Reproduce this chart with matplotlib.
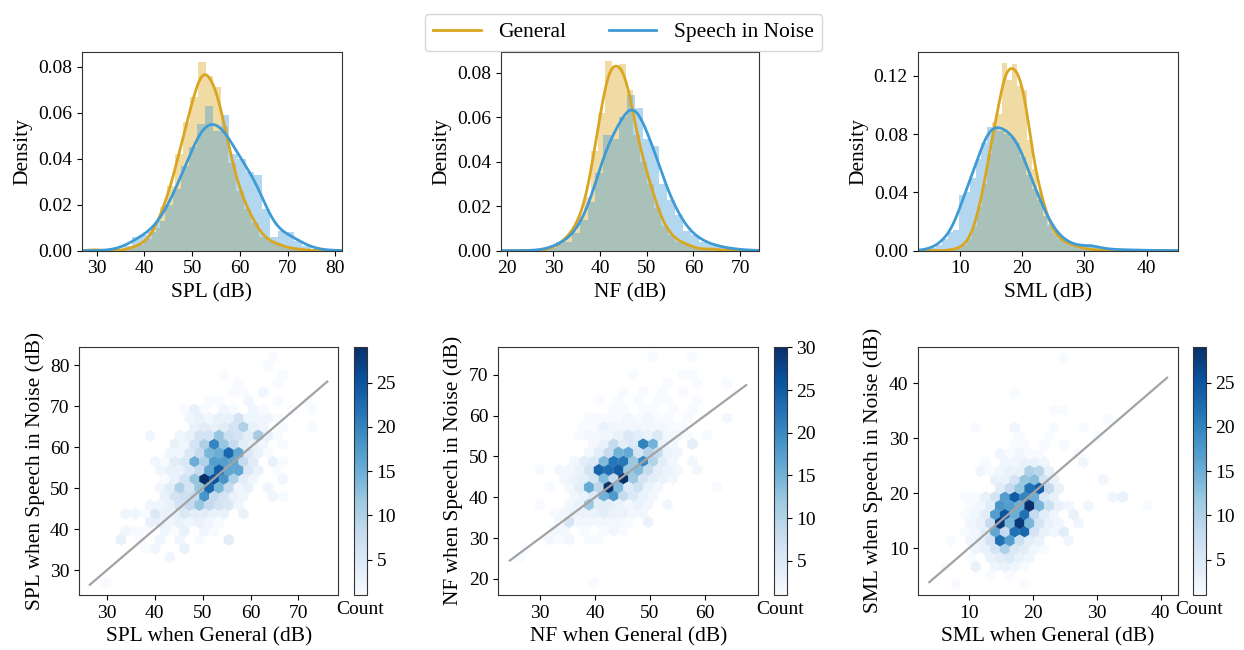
import matplotlib
matplotlib.use("Agg")
import matplotlib.pyplot as plt
from matplotlib.lines import Line2D
import numpy as np
import seaborn as sns

plt.rcParams['font.family'] = ['Liberation Serif', 'DejaVu Serif']
plt.rcParams['xtick.labelsize'] = 14
plt.rcParams['ytick.labelsize'] = 14
plt.rcParams['axes.labelsize'] = 15.5
plt.rcParams['axes.edgecolor'] = '#333333'

GOLD = '#daa520'
BLUE = '#3f9bd5'

# ---------------- histogram data: (first bin edge, bin width) + density per bin
spl_gen_bins = (28.8, 1.6)
spl_gen_density = [0.0008, 0, 0, 0, 0.0004, 0.0016, 0.0025, 0.005, 0.010, 0.019,
                   0.028, 0.042, 0.056, 0.067, 0.082, 0.076, 0.071, 0.054, 0.038,
                   0.026, 0.018, 0.012, 0.006, 0.004, 0.003, 0.0015, 0.0008, 0.0008]
spl_sin_bins = (27.2, 1.7)
spl_sin_density = [0, 0, 0, 0.0003, 0.0008, 0.002, 0.006, 0.007, 0.008, 0.013,
                   0.020, 0.027, 0.037, 0.045, 0.055, 0.063, 0.052, 0.059, 0.042,
                   0.040, 0.034, 0.033, 0.018, 0.006, 0.0085, 0.008, 0.004, 0.002,
                   0.0008, 0.0003, 0, 0.0002]

nf_gen_bins = (24.5, 1.5)
nf_gen_density = [0, 0, 0.0005, 0.001, 0.003, 0.0055, 0.009, 0.015, 0.024, 0.045,
                  0.062, 0.085, 0.082, 0.084, 0.072, 0.052, 0.040, 0.030, 0.019,
                  0.011, 0.007, 0.004, 0.0035, 0.0015, 0.0008, 0.0006, 0.001, 0.0003]
nf_sin_bins = (22.0, 1.7)
nf_sin_density = [0, 0, 0.0002, 0.0005, 0.001, 0.004, 0.004, 0.008, 0.014, 0.022,
                  0.035, 0.052, 0.050, 0.060, 0.070, 0.064, 0.050, 0.047, 0.030,
                  0.023, 0.016, 0.009, 0.007, 0.004, 0.003, 0.002, 0.0012, 0.0008,
                  0.0004, 0.0002, 0.0001]

sml_gen_bins = (8.0, 0.8)
sml_gen_density = [0.0005, 0.001, 0.002, 0.004, 0.008, 0.017, 0.030, 0.046, 0.066,
                   0.088, 0.094, 0.129, 0.117, 0.128, 0.113, 0.110, 0.076, 0.056,
                   0.040, 0.030, 0.017, 0.012, 0.008, 0.006, 0.004, 0.004, 0.002,
                   0.0015, 0.001, 0.0005, 0.0005]
sml_sin_bins = (3.5, 0.9)
sml_sin_density = [0.0005, 0.001, 0.002, 0.004, 0.008, 0.013, 0.014, 0.038, 0.040,
                   0.050, 0.063, 0.074, 0.085, 0.084, 0.082, 0.080, 0.078, 0.074,
                   0.064, 0.052, 0.042, 0.035, 0.024, 0.018, 0.011, 0.008, 0.006,
                   0.004, 0.003, 0.003, 0.0045, 0.003, 0.0015, 0.001, 0.001, 0.0008,
                   0.0005, 0.0005, 0.0005, 0.0003, 0.0003, 0.0002, 0.0001, 0.0001,
                   0.0001, 0.0001]

# ---------------- hexbin cells: (speech-in-noise dB, [(general dB, count), ...])
spl_cells = [
    (81.88, [(64.67, 1)]),
    (79.76, [(63.65, 1)]),
    (77.64, [(54.44, 1), (66.72, 1)]),
    (75.53, [(57.51, 1), (65.70, 1)]),
    (73.41, [(56.49, 1), (58.54, 1), (62.63, 2)]),
    (71.30, [(51.38, 1), (53.42, 1), (59.56, 2), (65.70, 1), (71.84, 1)]),
    (69.18, [(46.26, 1), (48.31, 3), (50.35, 1), (54.44, 2), (56.49, 1), (60.58, 2),
             (62.63, 1), (68.77, 1), (72.86, 1)]),
    (67.07, [(47.28, 2), (49.33, 3), (51.38, 2), (53.42, 3), (55.47, 3), (57.51, 6),
             (59.56, 2), (61.61, 2), (63.65, 2), (65.70, 1)]),
    (64.95, [(48.31, 3), (50.35, 4), (52.40, 3), (54.44, 4), (56.49, 6), (58.54, 10),
             (60.58, 3), (62.63, 2), (66.72, 1), (72.86, 1)]),
    (62.84, [(39.10, 2), (45.24, 2), (47.28, 3), (49.33, 6), (51.38, 6), (53.42, 12),
             (55.47, 7), (57.51, 6), (59.56, 4), (61.61, 11), (63.65, 3), (65.70, 1)]),
    (60.72, [(44.21, 3), (46.26, 2), (48.31, 6), (50.35, 10), (52.40, 20), (54.44, 12),
             (56.49, 8), (58.54, 4), (60.58, 3), (62.63, 2), (66.72, 1)]),
    (58.61, [(43.19, 2), (45.24, 2), (47.28, 5), (49.33, 8), (51.38, 14), (53.42, 15),
             (55.47, 23), (57.51, 16), (59.56, 5), (61.61, 3), (63.65, 1)]),
    (56.49, [(40.12, 2), (42.17, 1), (44.21, 4), (46.26, 5), (48.31, 15), (50.35, 10),
             (52.40, 17), (54.44, 17), (56.49, 16), (58.54, 8), (60.58, 4), (64.67, 3),
             (66.72, 1)]),
    (54.38, [(41.15, 2), (43.19, 3), (45.24, 3), (47.28, 5), (49.33, 8), (51.38, 16),
             (53.42, 24), (55.47, 16), (57.51, 16), (59.56, 5), (61.61, 3), (65.70, 1)]),
    (52.26, [(42.17, 1), (44.21, 3), (46.26, 6), (48.31, 12), (50.35, 29), (52.40, 25),
             (54.44, 18), (56.49, 10), (58.54, 4), (60.58, 2), (66.72, 2)]),
    (50.15, [(41.15, 2), (43.19, 4), (45.24, 10), (47.28, 6), (49.33, 12), (51.38, 23),
             (53.42, 14), (55.47, 8), (57.51, 2), (59.56, 3), (63.65, 2)]),
    (48.03, [(42.17, 3), (44.21, 6), (46.26, 7), (48.31, 8), (50.35, 18), (52.40, 8),
             (54.44, 6), (56.49, 3), (58.54, 2), (64.67, 2), (66.72, 1)]),
    (45.92, [(39.10, 2), (41.15, 2), (43.19, 3), (45.24, 6), (47.28, 8), (49.33, 12),
             (51.38, 8), (53.42, 6), (55.47, 5), (57.51, 2)]),
    (43.80, [(33.98, 2), (36.03, 2), (38.08, 1), (40.12, 5), (42.17, 3), (44.21, 3),
             (46.26, 5), (48.31, 4), (50.35, 4), (52.40, 3), (54.44, 3), (58.54, 3)]),
    (41.69, [(39.10, 3), (41.15, 3), (43.19, 2), (45.24, 3), (47.28, 2), (49.33, 3),
             (51.38, 2), (53.42, 1)]),
    (39.57, [(33.98, 2), (36.03, 1), (38.08, 1), (42.17, 2), (44.21, 1), (46.26, 3),
             (50.35, 2), (52.40, 1)]),
    (37.46, [(32.96, 3), (37.05, 1), (41.15, 2), (45.24, 2), (49.33, 1), (55.47, 4)]),
    (35.34, [(38.08, 1), (40.12, 2), (46.26, 3)]),
    (33.23, [(43.19, 2)]),
    (26.88, [(29.89, 1)]),
]

nf_cells = [
    (74.35, [(50.55, 1), (57.72, 1)]),
    (70.10, [(46.97, 1), (55.93, 1), (57.72, 1)]),
    (67.97, [(53.24, 1), (58.61, 1), (63.99, 1)]),
    (65.84, [(45.17, 1), (48.76, 1), (52.34, 1), (55.93, 1)]),
    (63.72, [(40.69, 1), (44.28, 1), (47.86, 1), (51.45, 1), (53.24, 1), (58.61, 1)]),
    (61.59, [(43.38, 1), (45.17, 1), (48.76, 1), (50.55, 1), (54.13, 1), (57.72, 1)]),
    (59.46, [(38.90, 1), (40.69, 1), (42.49, 1), (44.28, 1), (46.07, 2), (47.86, 1),
             (49.65, 2), (51.45, 1), (53.24, 1), (56.82, 1), (63.99, 2)]),
    (57.34, [(38.01, 1), (39.80, 1), (41.59, 3), (43.38, 2), (45.17, 2), (46.97, 2),
             (48.76, 2), (50.55, 2), (52.34, 2), (54.13, 1), (55.93, 1)]),
    (55.21, [(37.11, 1), (38.90, 2), (40.69, 2), (42.49, 2), (44.28, 3), (46.07, 5),
             (47.86, 4), (49.65, 3), (51.45, 5), (53.24, 2), (55.03, 2), (56.82, 1),
             (60.41, 1)]),
    (53.08, [(39.80, 2), (41.59, 3), (43.38, 8), (45.17, 4), (46.97, 5), (48.76, 21),
             (50.55, 15), (52.34, 3), (54.13, 2), (57.72, 4)]),
    (50.96, [(38.90, 2), (40.69, 4), (42.49, 8), (44.28, 15), (46.07, 16), (47.86, 6),
             (49.65, 10), (51.45, 8), (53.24, 3), (55.03, 2)]),
    (48.83, [(36.21, 2), (38.01, 4), (39.80, 5), (41.59, 14), (43.38, 22), (45.17, 22),
             (46.97, 12), (48.76, 20), (50.55, 10), (52.34, 4), (54.13, 2), (57.72, 2)]),
    (46.70, [(29.94, 1), (33.53, 2), (35.32, 2), (37.11, 3), (38.90, 6), (40.69, 24),
             (42.49, 23), (44.28, 25), (46.07, 12), (47.86, 14), (49.65, 8), (51.45, 4),
             (53.24, 3), (55.03, 2), (58.61, 2)]),
    (44.57, [(34.42, 2), (36.21, 3), (38.01, 4), (39.80, 6), (41.59, 14), (43.38, 8),
             (45.17, 30), (46.97, 12), (48.76, 6), (50.55, 4), (52.34, 3), (54.13, 2)]),
    (42.45, [(31.73, 1), (35.32, 2), (37.11, 4), (38.90, 16), (40.69, 9), (42.49, 30),
             (44.28, 14), (46.07, 5), (47.86, 7), (49.65, 3), (51.45, 2), (62.20, 1)]),
    (40.32, [(36.21, 2), (38.01, 3), (39.80, 5), (41.59, 15), (43.38, 18), (45.17, 8),
             (46.97, 5), (48.76, 3), (50.55, 2)]),
    (38.19, [(29.94, 1), (35.32, 2), (37.11, 3), (38.90, 12), (40.69, 4), (42.49, 4),
             (44.28, 3), (46.07, 2), (47.86, 3), (49.65, 2), (53.24, 2)]),
    (36.07, [(32.63, 1), (34.42, 2), (36.21, 3), (38.01, 3), (39.80, 3), (41.59, 4),
             (43.38, 3), (45.17, 3), (46.97, 2), (48.76, 2)]),
    (33.94, [(33.53, 2), (35.32, 6), (37.11, 2), (38.90, 2), (40.69, 2), (42.49, 2),
             (44.28, 2), (46.07, 1), (49.65, 3)]),
    (31.81, [(32.63, 2), (34.42, 2), (38.01, 1), (41.59, 1), (43.38, 2), (45.17, 1)]),
    (29.69, [(31.73, 2), (33.53, 1), (35.32, 2), (38.90, 1), (40.69, 1)]),
    (27.56, [(27.25, 1)]),
    (25.43, [(26.36, 1)]),
    (19.05, [(39.80, 1)]),
]

sml_cells = [
    (44.57, [(24.85, 1)]),
    (38.25, [(17.16, 1)]),
    (35.09, [(23.31, 1), (24.85, 1)]),
    (33.51, [(31.77, 1)]),
    (31.93, [(11.01, 1), (17.16, 2), (23.31, 1), (27.92, 1)]),
    (30.35, [(17.93, 1), (22.54, 1), (30.23, 1)]),
    (28.77, [(17.16, 1), (18.70, 1), (21.77, 1), (24.85, 1)]),
    (27.19, [(14.85, 2), (16.39, 1), (17.93, 2), (19.47, 1), (21.00, 1), (27.15, 1)]),
    (25.60, [(12.55, 1), (15.62, 2), (17.16, 2), (18.70, 3), (20.23, 3), (21.77, 2),
             (27.92, 2)]),
    (24.02, [(11.78, 2), (13.32, 1), (14.85, 2), (16.39, 3), (17.93, 3), (19.47, 10),
             (21.00, 9), (22.54, 3)]),
    (22.44, [(14.08, 3), (15.62, 3), (17.16, 6), (18.70, 12), (20.23, 13), (21.77, 6),
             (23.31, 3), (31.00, 2)]),
    (20.86, [(14.85, 4), (16.39, 8), (17.93, 12), (19.47, 22), (21.00, 24), (22.54, 8),
             (24.08, 3)]),
    (19.28, [(9.47, 1), (11.01, 1), (12.55, 3), (14.08, 6), (15.62, 17), (17.16, 24),
             (18.70, 20), (20.23, 15), (21.77, 5), (23.31, 3), (32.53, 2), (34.07, 3)]),
    (17.70, [(10.24, 1), (11.78, 2), (13.32, 4), (14.85, 18), (16.39, 17), (17.93, 15),
             (19.47, 29), (21.00, 14), (22.54, 7), (24.08, 3), (25.62, 2), (28.69, 2),
             (37.92, 1)]),
    (16.12, [(9.47, 1), (11.01, 2), (12.55, 4), (14.08, 17), (15.62, 25), (17.16, 15),
             (18.70, 22), (20.23, 8), (21.77, 4), (23.31, 2), (26.38, 3)]),
    (14.54, [(10.24, 2), (11.78, 3), (13.32, 8), (14.85, 28), (16.39, 14), (17.93, 28),
             (19.47, 14), (21.00, 6), (22.54, 3), (24.08, 2), (27.15, 2)]),
    (12.96, [(9.47, 1), (11.01, 2), (12.55, 4), (14.08, 16), (15.62, 8), (17.16, 22),
             (18.70, 23), (20.23, 6), (21.77, 3), (23.31, 2), (24.85, 4)]),
    (11.38, [(7.17, 1), (10.24, 2), (11.78, 3), (13.32, 6), (14.85, 22), (16.39, 17),
             (17.93, 7), (19.47, 4), (21.00, 3), (25.62, 2)]),
    (9.79, [(11.01, 2), (12.55, 3), (14.08, 6), (15.62, 10), (17.16, 5), (18.70, 4),
            (20.23, 2), (21.77, 1)]),
    (8.21, [(10.24, 1), (13.32, 3), (14.85, 4), (16.39, 5), (17.93, 3), (19.47, 2)]),
    (6.63, [(6.40, 1), (11.01, 3), (14.08, 2), (15.62, 3), (17.16, 2), (18.70, 1)]),
    (5.05, [(13.32, 1), (16.39, 1)]),
    (3.47, [(7.93, 1), (18.70, 1)]),
]

# identity line ranges
spl_line = [26.5, 76.0]
nf_line = [24.5, 67.5]
sml_line = [3.8, 41.0]

W, H = 1244, 650
fig = plt.figure(figsize=(W / 100, H / 100), dpi=100)


def box(l, t, r, b):
    return [l / W, 1 - b / H, (r - l) / W, (b - t) / H]


def draw_hist(ax, bins, dens, color, bw):
    start, width = bins
    centers = start + width * (np.arange(len(dens)) + 0.5)
    ax.bar(centers, dens, width=width, color=color, alpha=0.4, linewidth=0)
    sns.kdeplot(x=centers, weights=dens, bw_adjust=bw, cut=10, gridsize=600,
                color=color, lw=2, ax=ax)


def draw_hex(ax, cax, cells, extent, line):
    xs, ys, ns = [], [], []
    for y, row in cells:
        for x, n in row:
            xs.append(x)
            ys.append(y)
            ns.append(n)
    hb = ax.hexbin(xs, ys, C=ns, reduce_C_function=np.max, gridsize=24,
                   extent=extent, cmap='Blues', linewidths=0.2)
    ax.plot(line, line, color='#a3a3a3', lw=1.6)
    cb = fig.colorbar(hb, cax=cax)
    cb.ax.set_xlabel('Count', fontsize=14)
    cb.ax.tick_params(labelsize=14)
    cb.outline.set_edgecolor('#333333')
    return hb


# top row: label, general, speech-in-noise, x range/ticks, y range/ticks, kde bw
top = [
    ('SPL (dB)', spl_gen_bins, spl_gen_density, spl_sin_bins, spl_sin_density,
     (26.9, 81.4), range(30, 81, 10), (0, 0.0865), [0, 0.02, 0.04, 0.06, 0.08],
     (0.40, 0.55), (82, 342)),
    ('NF (dB)', nf_gen_bins, nf_gen_density, nf_sin_bins, nf_sin_density,
     (18.7, 74.1), range(20, 71, 10), (0, 0.0894), [0, 0.02, 0.04, 0.06, 0.08],
     (0.42, 0.52), (500.7, 759.3)),
    ('SML (dB)', sml_gen_bins, sml_gen_density, sml_sin_bins, sml_sin_density,
     (3.2, 45.0), range(10, 41, 10), (0, 0.1365), [0, 0.04, 0.08, 0.12],
     (0.42, 0.45), (917.7, 1177.7)),
]
for label, gb, gd, sb, sd, xl, xt, yl, yt, (bwg, bws), (l, r) in top:
    ax = fig.add_axes(box(l, 51.7, r, 250.7))
    draw_hist(ax, gb, gd, GOLD, bwg)
    draw_hist(ax, sb, sd, BLUE, bws)
    ax.set_xlim(xl)
    ax.set_xticks(list(xt))
    ax.set_ylim(yl)
    ax.set_yticks(yt)
    ax.set_yticklabels(['%.2f' % v for v in yt])
    ax.set_xlabel(label)
    ax.set_ylabel('Density')

# bottom row
bottom = [
    ('SPL', spl_cells, (25.8, 74.9, 26.88, 81.88), spl_line,
     (24.3, 78.3), range(30, 71, 10), (24.0, 84.5), range(30, 81, 10),
     (79.3, 338.3), (354, 366.7)),
    ('NF', nf_cells, (23.67, 66.67, 19.05, 74.35), nf_line,
     (22.4, 69.7), range(30, 61, 10), (16.05, 76.9), range(20, 71, 10),
     (498.3, 758.3), (774, 786.7)),
    ('SML', sml_cells, (3.32, 40.22, 3.47, 44.57), sml_line,
     (2.07, 42.66), range(10, 41, 10), (1.46, 46.65), range(10, 41, 10),
     (918.3, 1177.7), (1192.7, 1205.7)),
]
for name, cells, ext, line, xl, xt, yl, yt, (l, r), (cl, cr) in bottom:
    ax = fig.add_axes(box(l, 346.7, r, 595))
    cax = fig.add_axes(box(cl, 347.3, cr, 595))
    draw_hex(ax, cax, cells, ext, line)
    ax.set_xlim(xl)
    ax.set_xticks(list(xt))
    ax.set_ylim(yl)
    ax.set_yticks(list(yt))
    ax.set_xlabel(name + ' when General (dB)')
    ax.set_ylabel(name + ' when Speech in Noise (dB)')

handles = [Line2D([], [], color=GOLD, lw=2), Line2D([], [], color=BLUE, lw=2)]
fig.legend(handles, ['General', 'Speech in Noise'], loc='upper center',
           bbox_to_anchor=(0.5012, 1 - 3 / H), ncol=2, fontsize=15.5,
           handlelength=2.2, columnspacing=2.0, handletextpad=0.8,
           frameon=True, fancybox=True, edgecolor='#cccccc')

fig.savefig('out.png', dpi=100)
